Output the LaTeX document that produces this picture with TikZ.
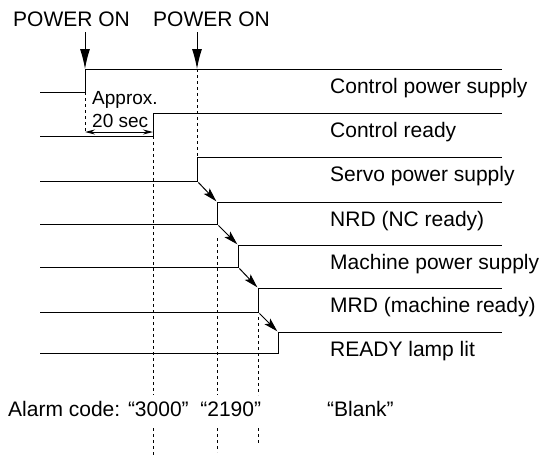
\documentclass[tikz,border=0pt]{standalone}
\usepackage{fontspec}
\setmainfont{Liberation Sans}
\usetikzlibrary{arrows.meta}
\begin{document}
\begin{tikzpicture}[x=1pt,y=-1pt,
  sig/.style={line width=1pt},
  dsh/.style={line width=0.9pt,dash pattern=on 3pt off 3pt},
  lbl/.style={anchor=base west,inner sep=0pt,font=\fontsize{21}{24}\selectfont},
  small/.style={anchor=base west,inner sep=0pt,font=\fontsize{19}{22}\selectfont},
  pwr/.style={line width=1pt,-{Latex[length=20pt,width=10pt]}},
  seq/.style={line width=1pt,-{Stealth[length=14pt,width=8pt,inset=3pt]},shorten <=2pt,shorten >=1pt},
  dim/.style={line width=1pt,{Stealth[length=10pt,width=5pt]}-{Stealth[length=10pt,width=5pt]}}]
\useasboundingbox (0,0) rectangle (543,463);
\fill[white] (0,0) rectangle (543,463);
% signals
\foreach \rx/\hy/\ly/\lab/\nm in {
  85/69/92/Control power supply/cps,
  153/113/136/Control ready/crd,
  197/157/181/Servo power supply/sps,
  217/202/224/NRD (NC ready)/nrd,
  238/245/267/Machine power supply/mps,
  258/288/312/MRD (machine ready)/mrd,
  278/332/353/READY lamp lit/rdy}{
  \coordinate (\nm-s) at (40,\ly);
  \coordinate (\nm-r) at (\rx,\ly);
  \coordinate (\nm-t) at (\rx,\hy);
  \coordinate (\nm-e) at (502,\hy);
  \draw[sig] (\nm-s) -- (\nm-r) -- (\nm-t) -- (\nm-e);
  \node[lbl] (\nm-l) at (330,\hy+24) {\lab};
}
% power on
\node[lbl] (pon1) at (13,27) {POWER ON};
\node[lbl] (pon2) at (153,27) {POWER ON};
\coordinate (a1) at (85,32);
\coordinate (a2) at (197,32);
\coordinate (a2t) at (197,69);
\draw[pwr] (a1) -- (cps-t);
\draw[pwr] (a2) -- (a2t);
% approx 20 sec
\node[small] (apx) at (92,104) {Approx.};
\node[small] (sec) at (92,127) {20 sec};
\coordinate (d1) at (85,132);
\coordinate (d2) at (153,132);
\draw[dim] (d1) -- (d2);
\draw[dsh] (cps-r) -- (d1);
% sequence arrows
\draw[seq] (sps-r) -- (nrd-t);
\draw[seq] (nrd-r) -- (mps-t);
\draw[seq] (mps-r) -- (mrd-t);
\draw[seq] (mrd-r) -- (rdy-t);
% dashed verticals
\coordinate (v1a) at (153,136); \coordinate (v1b) at (153,395);
\coordinate (v1c) at (153,428); \coordinate (v1d) at (153,455);
\coordinate (v2a) at (197,69);  \coordinate (v2b) at (197,157);
\coordinate (v3a) at (217,238); \coordinate (v3b) at (217,395);
\coordinate (v3c) at (217,428); \coordinate (v3d) at (217,452);
\coordinate (v4a) at (258,317); \coordinate (v4b) at (258,395);
\coordinate (v4c) at (258,428); \coordinate (v4d) at (258,445);
\draw[dsh] (v1a) -- (v1b); \draw[dsh] (v1c) -- (v1d);
\draw[dsh] (v2a) -- (v2b);
\draw[dsh] (v3a) -- (v3b); \draw[dsh] (v3c) -- (v3d);
\draw[dsh] (v4a) -- (v4b); \draw[dsh] (v4c) -- (v4d);
% alarm codes
\node[lbl] (alarm) at (8,416) {Alarm code: “3000”\ \ “2190”};
\node[lbl] (blank) at (327,416) {“Blank”};
\end{tikzpicture}
\end{document}
